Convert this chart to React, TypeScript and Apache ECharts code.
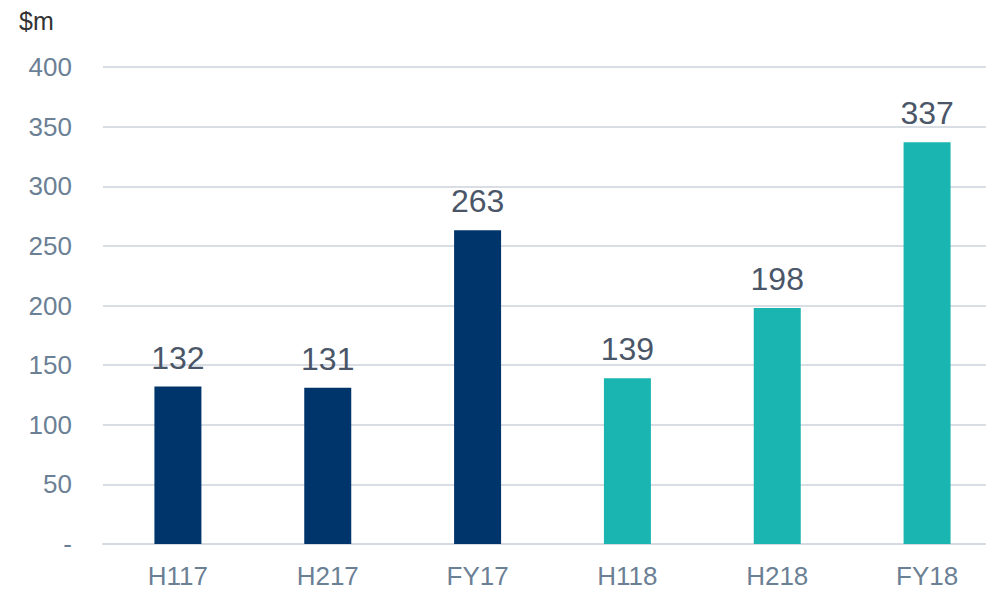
import React, { useEffect, useRef } from "react";
import * as echarts from "echarts";

const categories = ["H117", "H217", "FY17", "H118", "H218", "FY18"];
const values = [132, 131, 263, 139, 198, 337];
const barColors = ["#00356B", "#00356B", "#00356B", "#1AB5B1", "#1AB5B1", "#1AB5B1"];
const unitLabel = "$m";

export default function App() {
  const ref = useRef<HTMLDivElement>(null);
  useEffect(() => {
    if (!ref.current) return;
    const chart = echarts.init(ref.current, undefined, { renderer: "svg" });
    const font = "'Liberation Sans', Arial, sans-serif";
    chart.setOption({
      animation: false,
      textStyle: { fontFamily: font },
      grid: { left: 103, right: 0, top: 67, bottom: 46, containLabel: false },
      graphic: [
        {
          type: "text",
          left: 19,
          top: 8,
          style: { text: unitLabel, fill: "#333333", font: `25px ${font}` },
        },
      ],
      xAxis: {
        type: "category",
        data: categories,
        axisTick: { show: false },
        axisLine: { lineStyle: { color: "#D5DAE0", width: 2 } },
        axisLabel: { color: "#6B7F95", fontSize: 26, margin: 19, fontFamily: font },
      },
      yAxis: {
        type: "value",
        min: 0,
        max: 400,
        interval: 50,
        axisLine: { show: false },
        axisTick: { show: false },
        splitLine: { lineStyle: { color: "#D9DEE4", width: 2 } },
        axisLabel: {
          color: "#6B7F95",
          fontSize: 26,
          margin: 31,
          fontFamily: font,
          formatter: (v: number) => (v === 0 ? "-" : String(v)),
        },
      },
      series: [
        {
          type: "bar",
          barWidth: 47,
          data: values.map((v, i) => ({ value: v, itemStyle: { color: barColors[i] } })),
          label: {
            show: true,
            position: "top",
            distance: 13,
            color: "#4A5668",
            fontSize: 32,
            fontFamily: font,
          },
        },
      ],
    });
    return () => chart.dispose();
  }, []);
  return (
    <div style={{ width: 986, height: 590, position: "absolute", left: 0, top: 0, overflow: "hidden" }}>
      <div ref={ref} style={{ width: 1002, height: 590 }} />
    </div>
  );
}
